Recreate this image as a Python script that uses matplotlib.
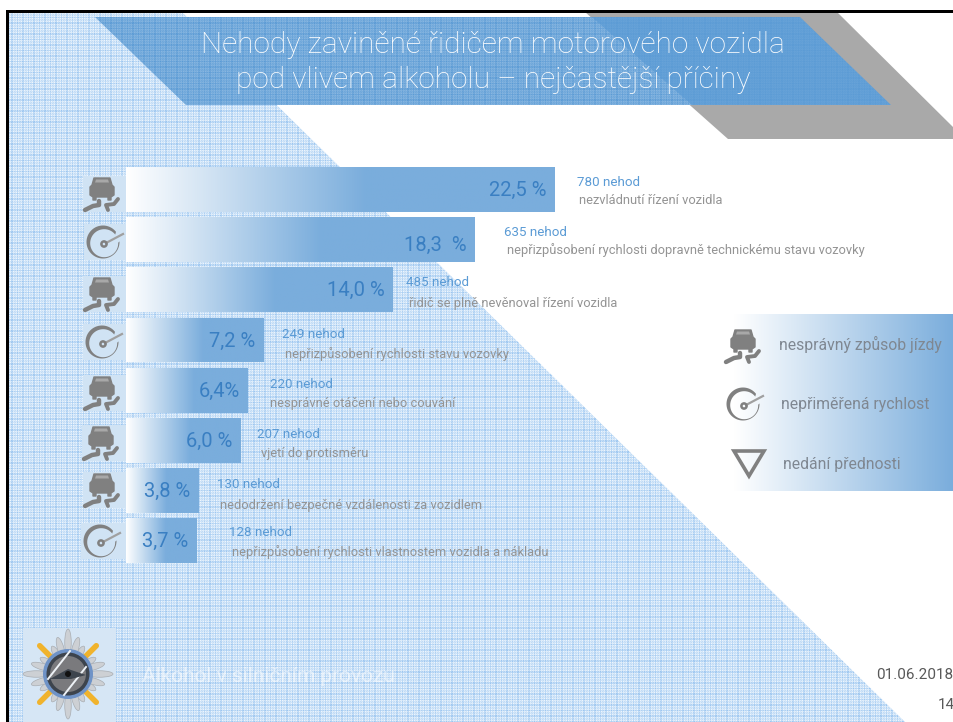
import numpy as np
import matplotlib
matplotlib.use("Agg")
import matplotlib.pyplot as plt
from matplotlib.colors import LinearSegmentedColormap
from matplotlib.patches import Polygon, Rectangle, Circle, Ellipse

# values
pct = [22.5, 18.3, 14.0, 7.2, 6.4, 6.0, 3.8, 3.7]
pct_labels = ["22,5 %", "18,3  %", "14,0 %", "7,2 %", "6,4%", "6,0 %", "3,8 %", "3,7 %"]
counts = [780, 635, 485, 249, 220, 207, 130, 128]
causes = [
    "nezvládnutí řízení vozidla",
    "nepřizpůsobení rychlosti dopravně technickému stavu vozovky",
    "řidič se plně nevěnoval řízení vozidla",
    "nepřizpůsobení rychlosti stavu vozovky",
    "nesprávné otáčení nebo couvání",
    "vjetí do protisměru",
    "nedodržení bezpečné vzdálenosti za vozidlem",
    "nepřizpůsobení rychlosti vlastnostem vozidla a nákladu",
]
kinds = ["car", "gauge", "car", "gauge", "car", "car", "car", "gauge"]
legend_labels = ["nesprávný způsob jízdy", "nepřiměřená rychlost", "nedání přednosti"]
title_lines = ["Nehody zaviněné řidičem motorového vozidla", "pod vlivem alkoholu – nejčastější příčiny"]
footer = "Alkohol v silničním provozu"
date = "01.06.2018"
page = "14"

# layout, in pixels of the 954x722 slide
count_xy = [(577, 182), (504, 232), (406, 283), (282, 334), (270, 385), (257, 435), (217, 485), (229, 532)]
cause_xy = [(579, 201), (507, 250), (409, 303), (285, 354), (270, 403), (261, 454), (220, 505), (232, 552)]
icon_xy = [(102, 194), (103, 242), (102, 294), (102, 342), (102, 393), (101, 443), (102, 490), (100, 541)]
label_dy = [1, 6, 1, 1, 1, 1, 1, 1]

BLUE = "#7aaddc"
GREY = "#808080"
plt.rcParams["font.family"] = ["Roboto", "DejaVu Sans"]

fig = plt.figure(figsize=(9.54, 7.22), dpi=100)
ax = fig.add_axes([0, 0, 1, 1])
ax.set_xlim(0, 954)
ax.set_ylim(722, 0)
ax.axis("off")
ax.set_autoscale_on(False)


def texture():
    # woven pattern of the slide background
    yy, xx = np.mgrid[0:722, 0:954]
    stripe = np.array([0.8, 0.8, 0, 0.35, 0.35, 0, 0.8, 0, 0.35, 0.35, 0])
    sx = stripe[xx % 11]
    sy = stripe[yy % 11]
    check = ((xx + yy) % 2) * 0.2
    return np.clip(0.5 * sx + 0.5 * sy + check, 0, 1)


tex = texture()
tex_cmap = LinearSegmentedColormap.from_list("tex", ["#eef6fd", "#9cc6f0"])

# slide background
bg = ax.imshow(tex, cmap=tex_cmap, extent=(0, 954, 722, 0), interpolation="nearest", aspect="auto", zorder=1)
bg_poly = Polygon([(7, 12), (182, 12), (905, 722), (7, 722)], transform=ax.transData, fc="none", ec="none")
ax.add_patch(bg_poly)
bg.set_clip_path(bg_poly)

# grey band and blue title banner
ax.add_patch(Polygon([(585, 12), (837, 12), (954, 128), (954, 139), (728, 139)], fc="#a9a9a9", ec="none", zorder=2))
ax.add_patch(Polygon([(95, 17), (800, 17), (891, 105), (186, 105)], fc="#5b9bd5", ec="none", zorder=3))
for pts, a in [([(95, 17), (592, 17), (692, 105), (186, 105)], 0.28), ([(592, 17), (800, 17), (891, 105), (692, 105)], 0.08)]:
    overlay = np.zeros(tex.shape + (4,))
    overlay[..., :3] = 1
    overlay[..., 3] = (1 - tex) * a
    im = ax.imshow(overlay, extent=(0, 954, 722, 0), interpolation="nearest", aspect="auto", zorder=4)
    clip = Polygon(pts, transform=ax.transData, fc="none", ec="none")
    ax.add_patch(clip)
    im.set_clip_path(clip)

# black frame
ax.add_patch(Rectangle((6, 10), 948, 2.5, fc="black", ec="none", zorder=5))
ax.add_patch(Rectangle((6, 10), 2.7, 712, fc="black", ec="none", zorder=5))

for i, line in enumerate(title_lines):
    ax.text(493, 45 + 35 * i, line, color="white", fontsize=21.5, weight="light", ha="center", va="center", zorder=6)


def car(cx, cy, s=1.0, z=6):
    body = [(-8, -16), (8, -16), (10, -9), (12, -7), (12, 1), (9, 3), (9, 6), (6, 6), (6, 3),
            (-6, 3), (-6, 6), (-9, 6), (-9, 3), (-12, 1), (-12, -7), (-10, -9)]
    ax.add_patch(Polygon([(cx + x * s, cy + y * s) for x, y in body], fc=GREY, ec=GREY, lw=1, joinstyle="round", zorder=z))
    glass = [(-6, -14.5), (6, -14.5), (7, -11.5), (-7, -11.5)]
    ax.add_patch(Polygon([(cx + x * s, cy + y * s) for x, y in glass], fc="#a8a8a8", ec="none", zorder=z))
    left = np.array([(-17, 16), (-9, 12), (-3, 11), (-3, 7)])
    right = np.array([(6, 16), (4, 11), (12, 10), (16, 5)])
    for tr, lw in [(left, 3.2), (right, 2.8)]:
        ax.plot(cx + tr[:, 0] * s, cy + tr[:, 1] * s, color=GREY, lw=lw, solid_capstyle="round", solid_joinstyle="round", zorder=z)


def gauge(cx, cy, s=1.0, z=6):
    # ring open towards the needle, thicker on the upper left
    a = np.radians(np.linspace(38, 362, 120))
    ox, oy = 16.5 * np.cos(a), -16.5 * np.sin(a)
    ix, iy = 14 * np.cos(a) + 1.2, -14 * np.sin(a) + 1.2
    xs = np.concatenate([ox, ix[::-1]])
    ys = np.concatenate([oy, iy[::-1]])
    ax.fill(cx + xs * s, cy + ys * s, color=GREY, lw=0, zorder=z)
    ax.plot([cx + 3 * s, cx + 20 * s], [cy + 1 * s, cy - 8 * s], color="#a0a0a0", lw=1.6, zorder=z)
    ax.add_patch(Circle((cx + 1, cy + 2), 2.6 * s, fc="none", ec=GREY, lw=1.8, zorder=z))


# icons next to the bars
for (cx, cy), kind in zip(icon_xy, kinds):
    ax.add_patch(Rectangle((cx - 19, cy - 18), 126 - cx + 19, 36, fc="#d0e3f4", ec="none", zorder=5))
    if kind == "car":
        car(cx, cy)
    else:
        gauge(cx, cy)

# bars, in percent on their own axes
bar_ax = fig.add_axes([126 / 954, 1 - 565.8 / 722, 828 / 954, 401.4 / 722], zorder=2)
bar_ax.patch.set_alpha(0)
bar_ax.axis("off")
bar_ax.set_xlim(0, 828 / 19.05)
bar_ax.set_ylim(7.5, -0.5)
bar_ax.set_autoscale_on(False)
bar_cmap = LinearSegmentedColormap.from_list("bar", [(0, "white"), (0.56, BLUE), (1, BLUE)])
grad = np.linspace(0, 1, 256).reshape(1, -1)
bars = bar_ax.barh(range(len(pct)), pct, height=0.896, color=BLUE)
for i, b in enumerate(bars):
    im = bar_ax.imshow(grad, cmap=bar_cmap, aspect="auto", extent=(0, pct[i], i + 0.448, i - 0.448), zorder=3)
    im.set_clip_path(b)
    bar_ax.annotate(pct_labels[i], (pct[i], i), xytext=(-6, -label_dy[i] * 0.72), textcoords="offset points",
                    color="#3a7fc2", fontsize=14.5, ha="right", va="center", zorder=4)

# text next to the bars
for i in range(len(pct)):
    ax.text(count_xy[i][0], count_xy[i][1], "%d nehod" % counts[i], color="#5b9bd5", fontsize=9.6, va="center", zorder=6)
    ax.text(cause_xy[i][0], cause_xy[i][1], causes[i], color="#949494", fontsize=9.3, va="center", zorder=6)

# legend box
leg_cmap = LinearSegmentedColormap.from_list("leg", [(0, "white"), (0.1, "white"), (1, BLUE)])
ax.imshow(grad, cmap=leg_cmap, extent=(710, 954, 491, 314), aspect="auto", zorder=2)
car(743, 346, 1.0)
gauge(743, 404, 1.0)
ax.add_patch(Polygon([(734, 451), (764, 451), (749, 476)], fc="none", ec=GREY, lw=2.6, joinstyle="miter", zorder=6))
for (x, y), lab in zip([(779, 344), (781, 404), (783, 464)], legend_labels):
    ax.text(x, y, lab, color="#7f8791", fontsize=11.3, va="center", zorder=6)

# logo
lx, ly = 68, 674
ax.add_patch(Rectangle((23, 628), 93, 94, fc="#d6e6f5", ec="none", zorder=5))
for base in [0, 90, 180, 270]:
    for off, length in [(-30, 32), (30, 32), (-16, 38), (16, 38), (0, 45)]:
        t = np.radians(base + off)
        mx = lx + np.cos(t) * length * 0.7
        my = ly + np.sin(t) * length * 0.7
        ax.add_patch(Ellipse((mx, my), length * 0.6, 6.5, angle=base + off, fc="#cdd0d4", ec="#a9adb2", lw=0.5, zorder=6))
for t in [45, 135, 225, 315]:
    r = np.radians(t)
    ax.plot([lx + 24 * np.cos(r), lx + 40 * np.cos(r)], [ly + 24 * np.sin(r), ly + 40 * np.sin(r)],
            color="#f0b32d", lw=4, solid_capstyle="round", zorder=7)
ax.add_patch(Circle((lx, ly), 25, fc="#6f93c7", ec="none", zorder=8))
ax.add_patch(Circle((lx, ly), 21.5, fc="#3d444d", ec="none", zorder=9))
ax.add_patch(Circle((lx, ly), 18, fc="#7a7a7d", ec="none", zorder=10))
for d, lw in [(-8, 1.4), (8, 1.4)]:
    ax.plot([lx - 12 + d, lx + 10 + d], [ly + 13 + d, ly - 15 + d], color="#eef2f6", lw=lw, zorder=11)
ax.fill([lx - 18, lx, lx + 18, lx + 3, lx - 3], [ly + 5, ly - 5, ly + 1, ly + 5, ly + 5], color="#3d444d", lw=0, zorder=12)
ax.add_patch(Circle((lx, ly), 3, fc="#111111", ec="none", zorder=13))

# footer
ax.text(142, 677, footer, color="#ffffff", alpha=0.55, fontsize=15, va="center", zorder=6)
ax.text(876, 675, date, color="#595959", fontsize=11, va="center", zorder=6)
ax.text(938, 705, page, color="#595959", fontsize=11, va="center", zorder=6)

fig.savefig("out.png", dpi=100)
